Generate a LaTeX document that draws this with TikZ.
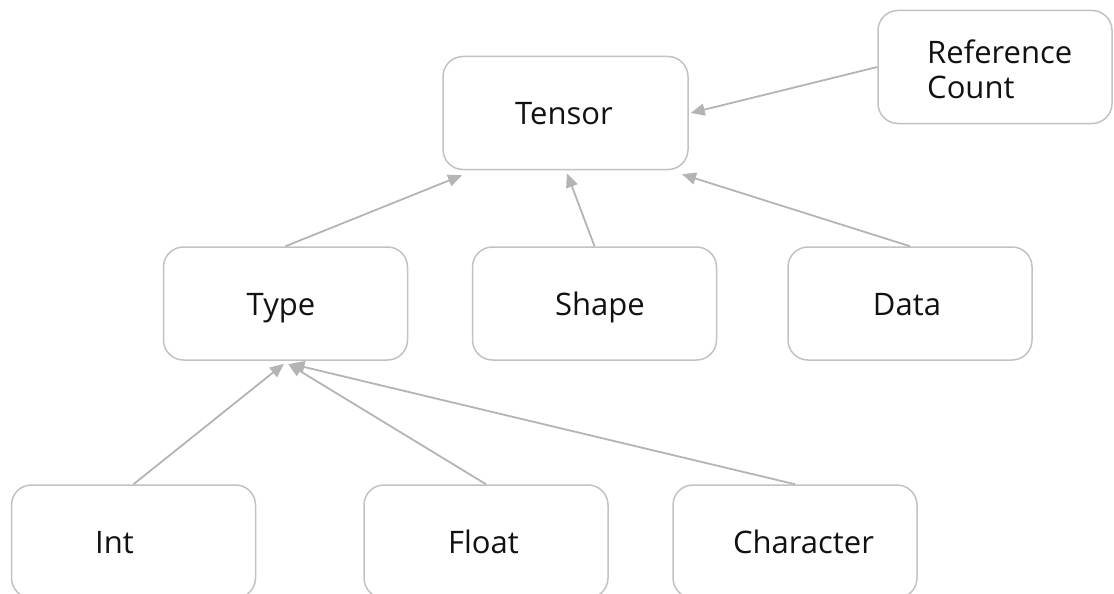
\documentclass[tikz,border=0pt]{standalone}
\usepackage{fontspec}
\setmainfont{Open Sans}
\usetikzlibrary{arrows.meta,calc}
\definecolor{boxgray}{HTML}{C2C2C2}
\definecolor{linkgray}{HTML}{B4B4B4}
\definecolor{ink}{HTML}{111111}
\tikzset{
	box/.style={draw=boxgray,line width=1.5pt,rounded corners=20pt,
		minimum width=244pt,minimum height=113pt,inner sep=0pt},
	txt/.style={text=ink,font=\fontsize{31}{35}\selectfont,
		text height=23pt,text depth=0pt,inner sep=0pt},
	link/.style={draw=linkgray,line width=1.8pt,-{Triangle[length=14pt,width=12pt]}},
}
\begin{document}
\begin{tikzpicture}[x=1pt,y=-1pt]
		\useasboundingbox (0,0) rectangle (1114,594);
		% top row
		\node[box,minimum width=245pt] (tensor) at (565.5,113) {};
		\node[box,minimum width=234pt] (refc) at (995,67) {};
		\node[txt] (tensorT) at (564,113) {Tensor};
		\node[text=ink,font=\fontsize{31}{35}\selectfont,inner sep=0pt,
			align=left,anchor=west] (refcT) at (927,69.5) {Reference\\Count};
		% middle row
		\node[box] (type) at (285.5,303.5) {};
		\node[box] (shape) at (594.5,303.5) {};
		\node[box] (data) at (910,303.5) {};
		\node[txt] (typeT) at (281,303.5) {Type};
		\node[txt] (shapeT) at (600,303.5) {Shape};
		\node[txt] (dataT) at (907,303.5) {Data};
		% bottom row, cut by the page edge
		\node[box] (int) at (133.5,541.5) {};
		\node[box] (float) at (486,541.5) {};
		\node[box] (character) at (795,541.5) {};
		\node[txt] (intT) at (114.5,541.5) {Int};
		\node[txt] (floatT) at (483.5,541.5) {Float};
		\node[txt] (characterT) at (803.5,541.5) {Character};
		% connectors
		\draw[link] (refc.west)--($(tensor.east)+(2,0)$);
		\draw[link] (type.north)--($(tensor.south)+(-103.5,5)$);
		\draw[link] (shape.north)--($(tensor.south)+(1.5,3)$);
		\draw[link] (data.north)--($(tensor.south)+(116.5,4)$);
		\draw[link] (int.north)--($(type.south)+(-1.5,3)$);
		\draw[link] (float.north)--($(type.south)+(2.5,3)$);
		\draw[link] (character.north)--($(type.south)+(5,3)$);
	\end{tikzpicture}
\end{document}
